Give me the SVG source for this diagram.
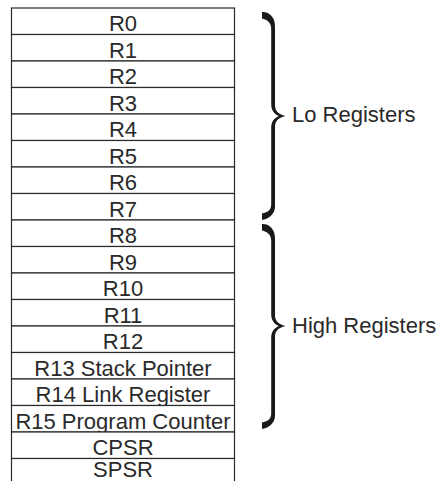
<svg xmlns="http://www.w3.org/2000/svg" width="441" height="481" viewBox="0 0 441 481">
<style>
.row{fill:#fff;stroke:#2a2a2a;stroke-width:1.2}
.lbl{font-family:"Liberation Sans",Arial,sans-serif;font-size:22px;fill:#2a2a2a;text-anchor:middle}
.grp{font-family:"Liberation Sans",Arial,sans-serif;font-size:22px;fill:#2a2a2a}
.brace{fill:#1a1a1a}
</style>
<rect width="441" height="481" fill="#fff"/>
<g id="R0"><rect class="row" x="11.5" y="8" width="223" height="26.5"/><text class="lbl" x="123" y="31.2">R0</text></g>
<g id="R1"><rect class="row" x="11.5" y="34.5" width="223" height="26.5"/><text class="lbl" x="123" y="57.7">R1</text></g>
<g id="R2"><rect class="row" x="11.5" y="61" width="223" height="26.5"/><text class="lbl" x="123" y="84.2">R2</text></g>
<g id="R3"><rect class="row" x="11.5" y="87.5" width="223" height="26.5"/><text class="lbl" x="123" y="110.7">R3</text></g>
<g id="R4"><rect class="row" x="11.5" y="114" width="223" height="26.5"/><text class="lbl" x="123" y="137.2">R4</text></g>
<g id="R5"><rect class="row" x="11.5" y="140.5" width="223" height="26.5"/><text class="lbl" x="123" y="163.7">R5</text></g>
<g id="R6"><rect class="row" x="11.5" y="167" width="223" height="26.5"/><text class="lbl" x="123" y="190.2">R6</text></g>
<g id="R7"><rect class="row" x="11.5" y="193.5" width="223" height="26.5"/><text class="lbl" x="123" y="216.7">R7</text></g>
<g id="R8"><rect class="row" x="11.5" y="220" width="223" height="26.5"/><text class="lbl" x="123" y="243.2">R8</text></g>
<g id="R9"><rect class="row" x="11.5" y="246.5" width="223" height="26.5"/><text class="lbl" x="123" y="269.7">R9</text></g>
<g id="R10"><rect class="row" x="11.5" y="273" width="223" height="26.5"/><text class="lbl" x="123" y="296.2">R10</text></g>
<g id="R11"><rect class="row" x="11.5" y="299.5" width="223" height="26.5"/><text class="lbl" x="123" y="322.7">R11</text></g>
<g id="R12"><rect class="row" x="11.5" y="326" width="223" height="26.5"/><text class="lbl" x="123" y="349.2">R12</text></g>
<g id="R13"><rect class="row" x="11.5" y="352.5" width="223" height="26.5"/><text class="lbl" x="123" y="375.7">R13 Stack Pointer</text></g>
<g id="R14"><rect class="row" x="11.5" y="379" width="223" height="26.5"/><text class="lbl" x="123" y="402.2">R14 Link Register</text></g>
<g id="R15"><rect class="row" x="11.5" y="405.5" width="223" height="26.5"/><text class="lbl" x="123" y="428.7">R15 Program Counter</text></g>
<g id="CPSR"><rect class="row" x="11.5" y="432" width="223" height="26.5"/><text class="lbl" x="123" y="455.2">CPSR</text></g>
<g id="SPSR"><rect class="row" x="11.5" y="458.5" width="223" height="26.5"/><text class="lbl" x="123" y="477">SPSR</text></g>
<g id="connectors">
<path class="brace" d="M262,12 C268,11.5 275,16 275,26 L275,105 C275,111 278,114 285.5,116 C278,118 275,121 275,127 L275,207 C275,214 268,219.5 262,220 L262,213.5 C267,212.5 271.2,210.5 271.2,204.5 L271.2,128 C271.2,122 274,118 279,116 C274,114 271.2,110 271.2,104 L271.2,28.5 C271.2,22.5 267,19.5 262,18.5 Z"/>
<path class="brace" d="M262,224 C268,223.5 275,228 275,238 L275,315 C275,321 278,324 285.5,326 C278,328 275,331 275,337 L275,416 C275,423 268,428.5 262,429 L262,422.5 C267,421.5 271.2,419.5 271.2,413.5 L271.2,338 C271.2,332 274,328 279,326 C274,324 271.2,320 271.2,314 L271.2,240.5 C271.2,234.5 267,231.5 262,230.5 Z"/>
</g>
<g id="lo"><text class="grp" x="292" y="122">Lo Registers</text></g>
<g id="high"><text class="grp" x="292" y="333">High Registers</text></g>
</svg>
